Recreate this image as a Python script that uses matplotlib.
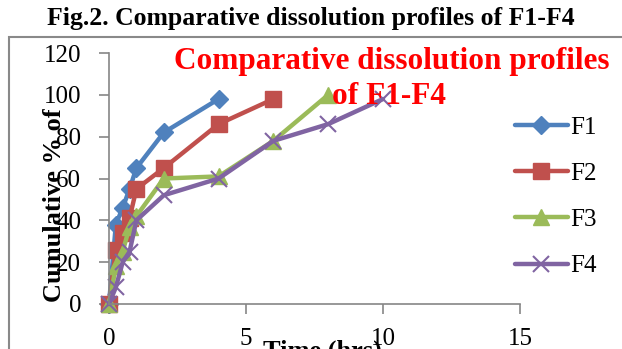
import matplotlib.pyplot as plt
from matplotlib.patches import Rectangle

# dissolution data (time in hrs, cumulative % released)
t_f1 = [0, 0.25, 0.5, 0.75, 1, 2, 4]
f1 = [0, 38, 46, 55, 65, 82, 98]
t_f2 = [0, 0.25, 0.5, 0.75, 1, 2, 4, 6]
f2 = [0, 26, 34, 41, 55, 65, 86, 98]
t_f3 = [0, 0.25, 0.5, 0.75, 1, 2, 4, 6, 8]
f3 = [0, 18, 25, 37, 42, 60, 61, 78, 100]
t_f4 = [0, 0.25, 0.5, 0.75, 1, 2, 4, 6, 8, 10]
f4 = [0, 8, 20, 25, 40, 52, 60, 78, 86, 98]

x_ticks = [0, 5, 10, 15]
y_ticks = [0, 20, 40, 60, 80, 100, 120]

plt.rcParams['font.family'] = ['Liberation Serif', 'DejaVu Serif']
W, H = 622, 349
fig = plt.figure(figsize=(W / 100, H / 100), dpi=100)

def fx(px):
    return px / W

def fy(py):
    return 1 - py / H

ax = fig.add_axes([fx(109), fy(304), fx(520) - fx(109), fy(53) - fy(304)])

series = [
    (t_f1, f1, 'F1', '#4F81BD', 'D', 9),
    (t_f2, f2, 'F2', '#C0504D', 's', 11),
    (t_f3, f3, 'F3', '#9BBB59', '^', 11),
    (t_f4, f4, 'F4', '#8064A2', 'x', 11),
]
for t, v, name, col, mk, ms in series:
    ax.plot(t, v, color=col, lw=3.2, marker=mk, ms=ms, mew=1.5 if mk == 'x' else 1,
            mec=col, mfc=col, label=name, clip_on=False, solid_capstyle='round')

ax.set_xlim(0, 15)
ax.set_ylim(0, 120)
ax.set_xticks(x_ticks)
ax.set_yticks(y_ticks)
for s in ['top', 'right']:
    ax.spines[s].set_visible(False)
for s in ['left', 'bottom']:
    ax.spines[s].set_color('#868686')
    ax.spines[s].set_linewidth(1.2)
ax.tick_params(axis='both', colors='#868686', labelcolor='black', labelsize=18,
               length=7, width=1.2, direction='out')
ax.tick_params(axis='x', pad=10)
ax.tick_params(axis='y', pad=13)

leg = ax.legend(loc='upper left', bbox_to_anchor=(fx(505), fy(106)), bbox_transform=fig.transFigure,
                frameon=False, fontsize=18, handlelength=2.1, handletextpad=0.1,
                labelspacing=0.95, borderaxespad=0)

# chart frame
fig.patches.append(Rectangle((fx(9), -0.1), 1.2, fy(37) + 0.1, transform=fig.transFigure,
                             fill=False, ec='#898989', lw=1.5))

fig.text(0.5, fy(18), 'Fig.2. Comparative dissolution profiles of F1-F4', ha='center', va='center',
         fontsize=18.5, fontweight='bold')
fig.text(fx(392), fy(62), 'Comparative dissolution profiles', ha='center', va='center',
         fontsize=22.5, fontweight='bold', color='red')
fig.text(fx(389), fy(97), 'of F1-F4', ha='center', va='center',
         fontsize=22.5, fontweight='bold', color='red')
fig.text(fx(55), fy(205), 'Cumulative % of', rotation=90, ha='center', va='center',
         fontsize=19, fontweight='bold')
fig.text(fx(263), fy(340), 'Time (hrs)', ha='left', va='top', fontsize=19, fontweight='bold')

fig.savefig('out.png', dpi=100)
